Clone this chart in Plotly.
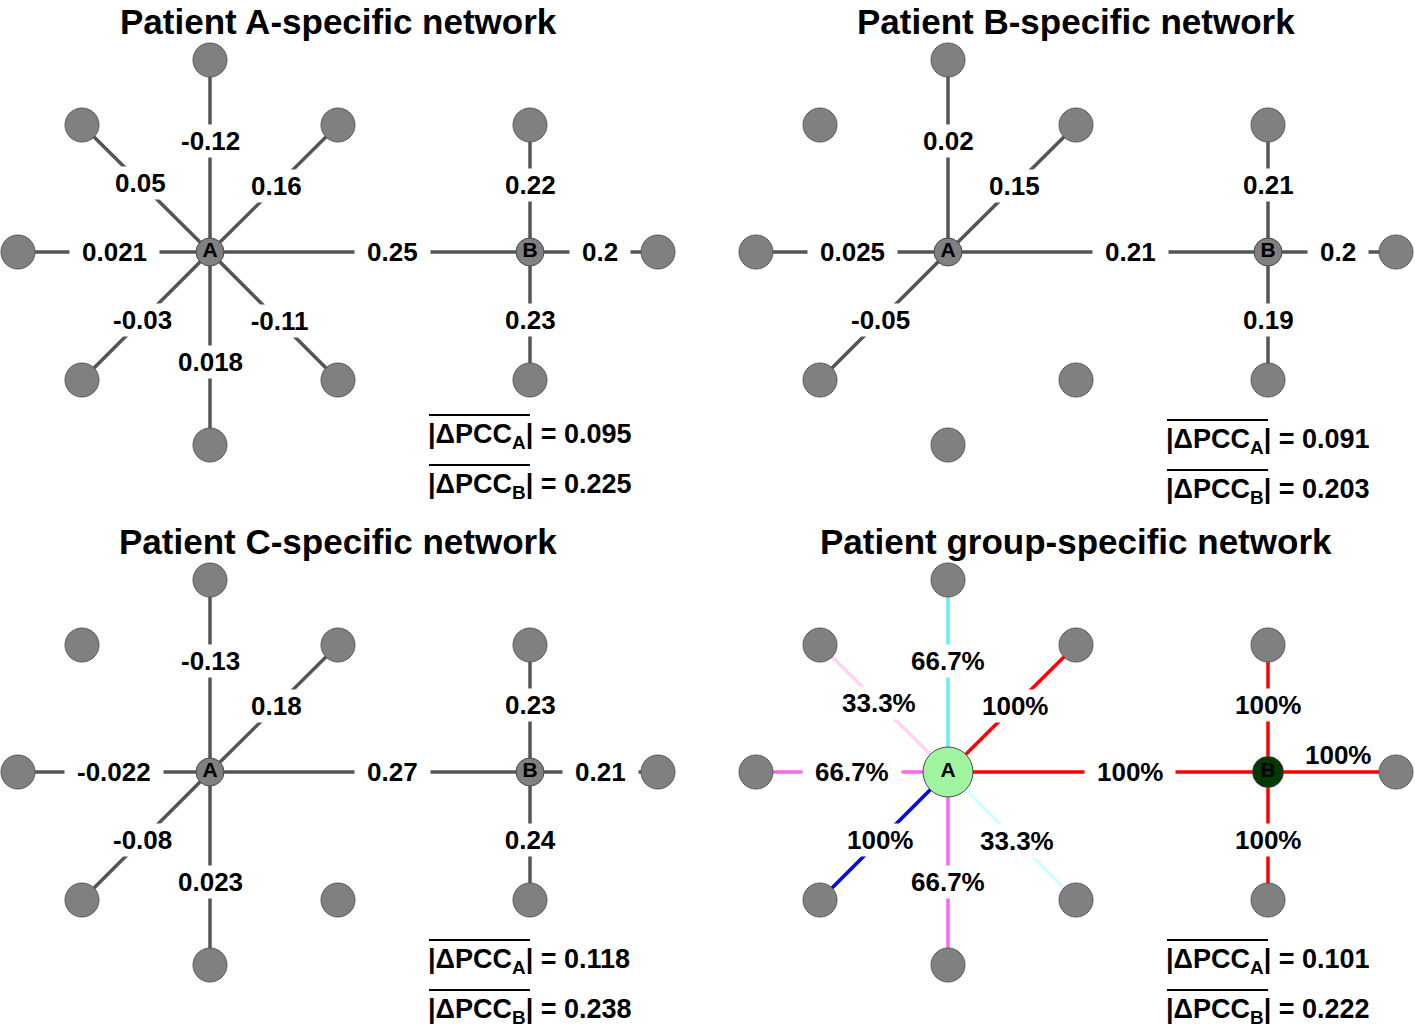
import plotly.graph_objects as go

FONT = "Liberation Sans, Arial, sans-serif"

# ---------------- data ----------------
titles = ["Patient A-specific network", "Patient B-specific network",
          "Patient C-specific network", "Patient group-specific network"]
edge_names = ["A-N", "A-NW", "A-NE", "A-W", "A-SW", "A-SE", "A-S", "A-B", "B-N", "B-S", "B-E"]
pcc_patient_A = [-0.12, 0.05, 0.16, 0.021, -0.03, -0.11, 0.018, 0.25, 0.22, 0.23, 0.2]
pcc_patient_B = [0.02, None, 0.15, 0.025, -0.05, None, None, 0.21, 0.21, 0.19, 0.2]
pcc_patient_C = [-0.13, None, 0.18, -0.022, -0.08, None, 0.023, 0.27, 0.23, 0.24, 0.21]
group_pct = [66.7, 33.3, 100, 66.7, 100, 33.3, 66.7, 100, 100, 100, 100]
mean_abs_dpcc_A = [0.095, 0.091, 0.118, 0.101]
mean_abs_dpcc_B = [0.225, 0.203, 0.238, 0.222]

# ---------------- layout / style ----------------
W, H = 1415, 1028
hub_pos = [(210, 252), (948, 252), (210, 772), (948, 772)]
node_off = {
    "A": (0, 0), "B": (320, 0),
    "N": (0, -192), "NW": (-128, -127), "NE": (128, -127), "W": (-192, 0),
    "SW": (-128, 128), "SE": (128, 128), "S": (0, 193),
    "BN": (320, -127), "BS": (320, 128), "BE": (448, 0),
}
edge_ends = {
    "A-N": ("A", "N"), "A-NW": ("A", "NW"), "A-NE": ("A", "NE"), "A-W": ("A", "W"),
    "A-SW": ("A", "SW"), "A-SE": ("A", "SE"), "A-S": ("A", "S"), "A-B": ("A", "B"),
    "B-N": ("B", "BN"), "B-S": ("B", "BS"), "B-E": ("B", "BE"),
}
label_frac = {"A-N": 0.58, "A-NW": 0.54, "A-NE": 0.52, "A-W": 0.5, "A-SW": 0.53,
              "A-SE": 0.54, "A-S": 0.57, "A-B": 0.57, "B-N": 0.53, "B-S": 0.53, "B-E": 0.55}
group_colors = ["#66f0f0", "#ffd2f6", "#ff0000", "#ff66ee", "#0000ee", "#d2ffff",
                "#ff66ee", "#ff0000", "#ff0000", "#ff0000", "#ff0000"]
formula_dy = [184, 189, 189, 189]
EDGE_GRAY = "#555555"
NODE_GRAY = "#808080"
LABEL_FS = 26
FORM_FS = 27

char_w = {".": 0.278, "-": 0.333, "%": 0.889}


def text_w(s, fs):
    return sum(char_w.get(c, 0.556) for c in s) * fs


fig = go.Figure()
annotations = []
shapes = []

panels = [pcc_patient_A, pcc_patient_B, pcc_patient_C, group_pct]
for p, vals in enumerate(panels):
    hx, hy = hub_pos[p]

    def pos(n):
        return hx + node_off[n][0], hy + node_off[n][1]

    # edges
    for i, (name, v) in enumerate(zip(edge_names, vals)):
        if v is None:
            continue
        a, b = edge_ends[name]
        (x0, y0), (x1, y1) = pos(a), pos(b)
        color = group_colors[i] if p == 3 else EDGE_GRAY
        fig.add_trace(go.Scatter(x=[x0, x1], y=[y0, y1], mode="lines",
                                 line=dict(color=color, width=3.5),
                                 hoverinfo="skip", showlegend=False))
        f = label_frac[name]
        lx, ly = x0 + (x1 - x0) * f, y0 + (y1 - y0) * f
        txt = f"{v:g}%" if p == 3 else str(v)
        special = (p == 3 and name == "B-E")
        annotations.append(dict(
            x=lx, y=ly - (17 if special else 0), xref="x", yref="y", text=txt,
            showarrow=False, font=dict(family=FONT, size=LABEL_FS, color="black", weight="bold"),
            bgcolor="rgba(0,0,0,0)" if special else "white",
            width=text_w(txt, LABEL_FS) + 22, height=30, align="center"))

    # peripheral nodes
    per = ["N", "NW", "NE", "W", "SW", "SE", "S", "BN", "BS", "BE"]
    fig.add_trace(go.Scatter(
        x=[pos(n)[0] for n in per], y=[pos(n)[1] for n in per], mode="markers",
        marker=dict(size=34, color=NODE_GRAY, opacity=1, line=dict(color="#5a5a5a", width=1)),
        hoverinfo="skip", showlegend=False))
    # hub nodes
    if p == 3:
        hub_sizes = [50, 31]
        hub_colors = ["#a0f5a0", "#003a00"]
    else:
        hub_sizes = [28, 28]
        hub_colors = [NODE_GRAY, NODE_GRAY]
    fig.add_trace(go.Scatter(
        x=[pos("A")[0], pos("B")[0]], y=[pos("A")[1], pos("B")[1]], mode="markers+text",
        text=["A", "B"], textposition="middle center",
        textfont=dict(family=FONT, size=21, color="black", weight="bold"),
        marker=dict(size=hub_sizes, color=hub_colors, opacity=1,
                    line=dict(color="#4a4a4a", width=1)),
        hoverinfo="skip", showlegend=False))

    # title
    annotations.append(dict(
        x=hx + 128, y=hy - 231, xref="x", yref="y", text=titles[p], showarrow=False,
        font=dict(family=FONT, size=35, color="black", weight="bold")))

    # mean |dPCC| formulas
    fx = hx + 216
    for k, (sub, val) in enumerate([("A", mean_abs_dpcc_A[p]), ("B", mean_abs_dpcc_B[p])]):
        fy = hy + formula_dy[p] + 50 * k
        annotations.append(dict(
            x=fx, y=fy, xref="x", yref="y", xanchor="left",
            text=f"|ΔPCC<sub>{sub}</sub>| = {val:.3f}", showarrow=False,
            font=dict(family=FONT, size=FORM_FS, color="black", weight="bold")))
        shapes.append(dict(type="line", xref="x", yref="y", x0=fx + 3, x1=fx + 104,
                           y0=fy - 21, y1=fy - 21, line=dict(color="black", width=2)))

fig.update_layout(
    width=W, height=H, margin=dict(l=0, r=0, t=0, b=0),
    paper_bgcolor="white", plot_bgcolor="white",
    xaxis=dict(range=[0, W], visible=False, fixedrange=True),
    yaxis=dict(range=[H, 0], visible=False, fixedrange=True),
    annotations=annotations, shapes=shapes,
)
fig.write_html("out.html", config={"displayModeBar": False},
               post_script="document.body.style.margin='0';")
